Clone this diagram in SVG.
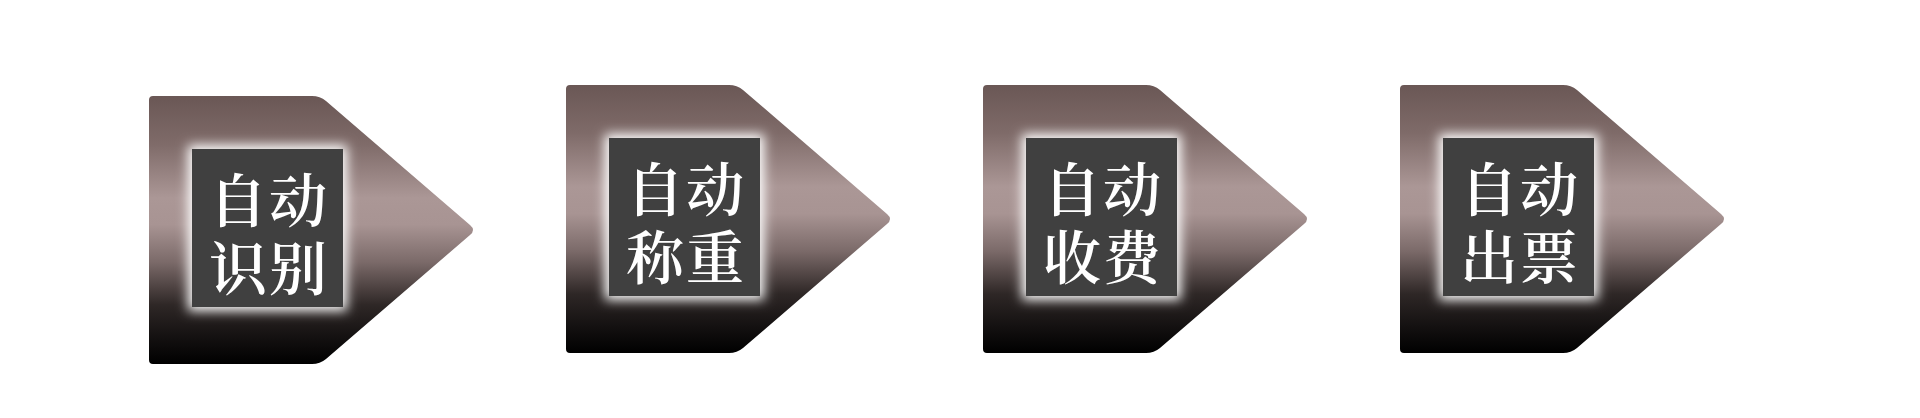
<svg xmlns="http://www.w3.org/2000/svg" width="1920" height="418" viewBox="0 0 1920 418">
<style>
.arrow{fill:url(#bodyGrad)}
.glow{fill:#ffffff;filter:url(#glowBlur)}
.box{fill:#404040}
.lbl{font-family:"Noto Serif CJK SC","Noto Sans CJK SC","Noto Sans CJK JP",serif;font-size:58px;font-weight:600;fill:#ffffff;text-anchor:middle}
</style>
<defs>
<linearGradient id="bodyGrad" x1="0" y1="0" x2="0" y2="1">
<stop offset="0" stop-color="#6a5755"/>
<stop offset="0.18" stop-color="#7f6b69"/>
<stop offset="0.38" stop-color="#ab9796"/>
<stop offset="0.48" stop-color="#a89493"/>
<stop offset="0.62" stop-color="#7b6a69"/>
<stop offset="0.78" stop-color="#2e2726"/>
<stop offset="0.9" stop-color="#141111"/>
<stop offset="1" stop-color="#000000"/>
</linearGradient>
<filter id="glowBlur" x="-30%" y="-30%" width="160%" height="160%">
<feGaussianBlur stdDeviation="6"/>
</filter>
<path id="arrowShape" d="M4 0 H163 Q171 0 177 5 L321 129 Q327 134 321 139 L177 263 Q171 268 163 268 H4 Q0 268 0 264 V4 Q0 0 4 0 Z"/>
</defs>
<rect width="1920" height="418" fill="#ffffff"/>
<g id="connectors"></g>
<g id="node1" transform="translate(149,96)">
<use href="#arrowShape" class="arrow"/>
<rect class="glow" x="39" y="49" width="159" height="166"/>
<rect class="box" x="43" y="53" width="151" height="158"/>
<text class="lbl"><tspan x="89 149" y="126">自动</tspan><tspan x="89 149" y="194">识别</tspan></text>
</g>
<g id="node2" transform="translate(566,85)">
<use href="#arrowShape" class="arrow"/>
<rect class="glow" x="39" y="49" width="159" height="166"/>
<rect class="box" x="43" y="53" width="151" height="158"/>
<text class="lbl"><tspan x="89 149" y="126">自动</tspan><tspan x="89 149" y="194">称重</tspan></text>
</g>
<g id="node3" transform="translate(983,85)">
<use href="#arrowShape" class="arrow"/>
<rect class="glow" x="39" y="49" width="159" height="166"/>
<rect class="box" x="43" y="53" width="151" height="158"/>
<text class="lbl"><tspan x="89 149" y="126">自动</tspan><tspan x="89 149" y="194">收费</tspan></text>
</g>
<g id="node4" transform="translate(1400,85)">
<use href="#arrowShape" class="arrow"/>
<rect class="glow" x="39" y="49" width="159" height="166"/>
<rect class="box" x="43" y="53" width="151" height="158"/>
<text class="lbl"><tspan x="89 149" y="126">自动</tspan><tspan x="89 149" y="194">出票</tspan></text>
</g>
</svg>
